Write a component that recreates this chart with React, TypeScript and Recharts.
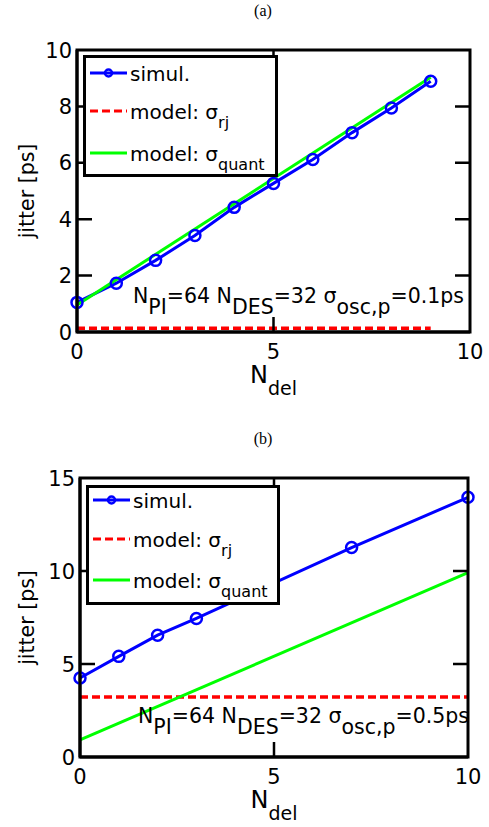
import React from "react";
import { LineChart, Line, XAxis, YAxis, Legend } from "recharts";

// (a) N_PI=64, N_DES=32, sigma_osc,p=0.1ps
const nDelA = [0, 1, 2, 3, 4, 5, 6, 7, 8, 9];
const simulA = [1.05, 1.73, 2.54, 3.42, 4.42, 5.27, 6.12, 7.07, 7.94, 8.89];
const rjA = [0.13, 0.13, 0.13, 0.13, 0.13, 0.13, 0.13, 0.13, 0.13, 0.13];
const quantA = [0.96, null, null, null, null, null, null, null, null, 9.03];

// (b) N_PI=64, N_DES=32, sigma_osc,p=0.5ps
const nDelB = [0, 1, 2, 3, 7, 10];
const simulB = [4.25, 5.41, 6.55, 7.45, 11.26, 13.96];
const rjB = [3.22, 3.22, 3.22, 3.22, 3.22, 3.22];
const quantB = [0.92, null, null, null, null, 9.91];

const xTicks = [0, 5, 10];
const yTicksA = [0, 2, 4, 6, 8, 10];
const yTicksB = [0, 5, 10, 15];

const dataA = nDelA.map((n, i) => ({ n, simul: simulA[i], rj: rjA[i], quant: quantA[i] }));
const dataB = nDelB.map((n, i) => ({ n, simul: simulB[i], rj: rjB[i], quant: quantB[i] }));

const FONT = "DejaVu Sans, Arial, sans-serif";
const BLUE = "#0000ff";
const RED = "#ff0000";
const GREEN = "#00ff00";
const TICK_LEN = 15;
const AX = 30; // axis band size, taken out of the margins

type Box = { left: number; top: number; right: number; bottom: number };

const LeftTick = (p: any) => (
  <text x={p.x - 5} y={p.y} dy="0.36em" textAnchor="end" fontSize={21} fontFamily={FONT} fill="#000">
    {p.payload.value}
  </text>
);
const BottomTick = (p: any) => (
  <text x={p.x} y={p.y + 27} textAnchor="middle" fontSize={21} fontFamily={FONT} fill="#000">
    {p.payload.value}
  </text>
);

const legendItems = [
  { label: "simul.", sub: "", color: BLUE, dash: undefined, marker: true },
  { label: "model: σ", sub: "rj", color: RED, dash: "8 4", marker: false },
  { label: "model: σ", sub: "quant", color: GREEN, dash: undefined, marker: false },
];

const LegendBox = ({ w, h, rows }: { w: number; h: number; rows: number[] }) => (
  <svg width={w} height={h} style={{ display: "block" }}>
    <rect x={1.5} y={1.5} width={w - 3} height={h - 3} fill="#fff" stroke="#000" strokeWidth={3} />
    {legendItems.map((it, i) => (
      <g key={i}>
        <line x1={7} y1={rows[i]} x2={44} y2={rows[i]} stroke={it.color} strokeWidth={3} strokeDasharray={it.dash} />
        {it.marker && <circle cx={25.5} cy={rows[i]} r={3.5} fill="none" stroke={it.color} strokeWidth={2.5} />}
        <text x={47} y={rows[i] + 8} fontSize={20} fontFamily={FONT} fill="#000">
          {it.label}
          {it.sub && <tspan fontSize={16} dy={9}>{it.sub}</tspan>}
        </text>
      </g>
    ))}
  </svg>
);

interface PanelProps {
  data: any[];
  yMax: number;
  yTicks: number[];
  plot: Box;
  height: number;
  legendPos: { left: number; top: number; w: number; h: number; rows: number[] };
}

const Panel = ({ data, yMax, yTicks, plot, height, legendPos }: PanelProps) => {
  const margin = {
    top: plot.top,
    left: plot.left - AX,
    right: 489 - plot.right,
    bottom: height - plot.bottom - AX,
  };
  return (
    <LineChart width={489} height={height} data={data} margin={margin}>
      <XAxis dataKey="n" type="number" domain={[0, 10]} ticks={xTicks} interval={0} height={AX}
        tickSize={0} tickMargin={0} tickLine={false} tick={(p: any) => <BottomTick {...p} />}
        axisLine={{ stroke: "#000", strokeWidth: 3 }} />
      <YAxis type="number" domain={[0, yMax]} ticks={yTicks} interval={0} width={AX}
        tickSize={0} tickMargin={0} tickLine={false} tick={(p: any) => <LeftTick {...p} />}
        axisLine={{ stroke: "#000", strokeWidth: 3 }} />
      <Line dataKey="rj" stroke={RED} strokeWidth={3.5} strokeDasharray="8 4" dot={false}
        isAnimationActive={false} />
      <Line dataKey="simul" stroke={BLUE} strokeWidth={3} isAnimationActive={false}
        dot={{ r: 5.5, stroke: BLUE, strokeWidth: 2.5, fill: "none" }} />
      <Line dataKey="quant" stroke={GREEN} strokeWidth={3} dot={false} connectNulls
        isAnimationActive={false} />
      <Legend layout="vertical" align="center" verticalAlign="middle"
        wrapperStyle={{ position: "absolute", left: legendPos.left, top: legendPos.top, width: legendPos.w, height: legendPos.h }}
        content={() => <LegendBox w={legendPos.w} h={legendPos.h} rows={legendPos.rows} />} />
    </LineChart>
  );
};

// matlab-style box: frame plus inward ticks on all four sides (skipping ticks under the legend)
const Frame = ({ plot, offsetY, yMax, yTicks, legend }: { plot: Box; offsetY: number; yMax: number; yTicks: number[]; legend: Box }) => {
  const L = plot.left, R = plot.right, T = offsetY + plot.top, B = offsetY + plot.bottom;
  const lg = { left: legend.left, right: legend.right, top: offsetY + legend.top, bottom: offsetY + legend.bottom };
  const hidden = (x1: number, x2: number, y1: number, y2: number) =>
    x2 >= lg.left && x1 <= lg.right && y2 >= lg.top && y1 <= lg.bottom;
  const segs: string[] = [];
  xTicks.slice(1, -1).forEach((v) => {
    const x = L + (v / 10) * (R - L);
    segs.push(`M${x},${B}V${B - TICK_LEN}`);
    if (!hidden(x - 1, x + 1, T, T + TICK_LEN)) segs.push(`M${x},${T}V${T + TICK_LEN}`);
    else segs.push(`M${x},${T}V${lg.top}`);
  });
  yTicks.slice(1, -1).forEach((v) => {
    const y = B - (v / yMax) * (B - T);
    if (!hidden(L, L + TICK_LEN, y - 1, y + 1)) segs.push(`M${L},${y}H${L + TICK_LEN}`);
    else segs.push(`M${L},${y}H${lg.left}`);
    segs.push(`M${R},${y}H${R - TICK_LEN}`);
  });
  return (
    <g>
      <path d={segs.join("")} stroke="#000" strokeWidth={2.5} fill="none" />
      <rect x={L} y={T} width={R - L} height={B - T} fill="none" stroke="#000" strokeWidth={3} />
    </g>
  );
};

// axis titles, sitting relative to each plot box
const Titles = ({ plot, offsetY }: { plot: Box; offsetY: number }) => {
  const cx = (plot.left + plot.right) / 2;
  const cy = offsetY + (plot.top + plot.bottom) / 2;
  const by = offsetY + plot.bottom + 51;
  return (
    <g fontFamily={FONT} fill="#000">
      <text x={cx} y={by} textAnchor="middle">
        <tspan fontSize={24}>N</tspan>
        <tspan fontSize={19} dy={12}>del</tspan>
      </text>
      <text x={34} y={cy} textAnchor="middle" fontSize={20.5} transform={`rotate(-90, 34, ${cy})`}>
        jitter [ps]
      </text>
    </g>
  );
};

const Annot = ({ x, y, sigma }: { x: number; y: number; sigma: string }) => (
  <text x={x} y={y} fontSize={20.5} fontFamily={FONT} fill="#000">
    N<tspan dy={11}>PI</tspan>
    <tspan dy={-11}>=64 N</tspan>
    <tspan dy={11}>DES</tspan>
    <tspan dy={-11}>=32 σ</tspan>
    <tspan dy={11}>osc,p</tspan>
    <tspan dy={-11}>={sigma}ps</tspan>
  </text>
);

const plotA: Box = { left: 77, top: 50, right: 470, bottom: 332 };
const plotB: Box = { left: 80, top: 63, right: 468, bottom: 342 };
const TOP_B = 415;
const legA = { left: 83, top: 55, w: 195, h: 122, rows: [18, 56, 98] };
const legB = { left: 86, top: 70, w: 194, h: 120, rows: [15, 54, 95] };
const boxOf = (l: { left: number; top: number; w: number; h: number }): Box =>
  ({ left: l.left, top: l.top, right: l.left + l.w, bottom: l.top + l.h });

export default function App() {
  return (
    <div style={{ position: "absolute", left: 0, top: 0, width: 489, height: 827, background: "#fff" }}>
      <div style={{ position: "absolute", left: 0, top: 0 }}>
        <Panel data={dataA} yMax={10} yTicks={yTicksA} height={410} plot={plotA} legendPos={legA} />
      </div>
      <div style={{ position: "absolute", left: 0, top: TOP_B }}>
        <Panel data={dataB} yMax={15} yTicks={yTicksB} height={412} plot={plotB} legendPos={legB} />
      </div>
      <svg width={489} height={827} style={{ position: "absolute", left: 0, top: 0, pointerEvents: "none", zIndex: 5 }}>
        <Frame plot={plotA} offsetY={0} yMax={10} yTicks={yTicksA} legend={boxOf(legA)} />
        <Frame plot={plotB} offsetY={TOP_B} yMax={15} yTicks={yTicksB} legend={boxOf(legB)} />
        <text x={263} y={16} textAnchor="middle" fontSize={16} fontFamily="Liberation Serif, Times New Roman, serif">(a)</text>
        <text x={263} y={444} textAnchor="middle" fontSize={16} fontFamily="Liberation Serif, Times New Roman, serif">(b)</text>
        <Titles plot={plotA} offsetY={0} />
        <Titles plot={plotB} offsetY={TOP_B} />
        <Annot x={133} y={303} sigma="0.1" />
        <Annot x={138} y={723} sigma="0.5" />
      </svg>
    </div>
  );
}
